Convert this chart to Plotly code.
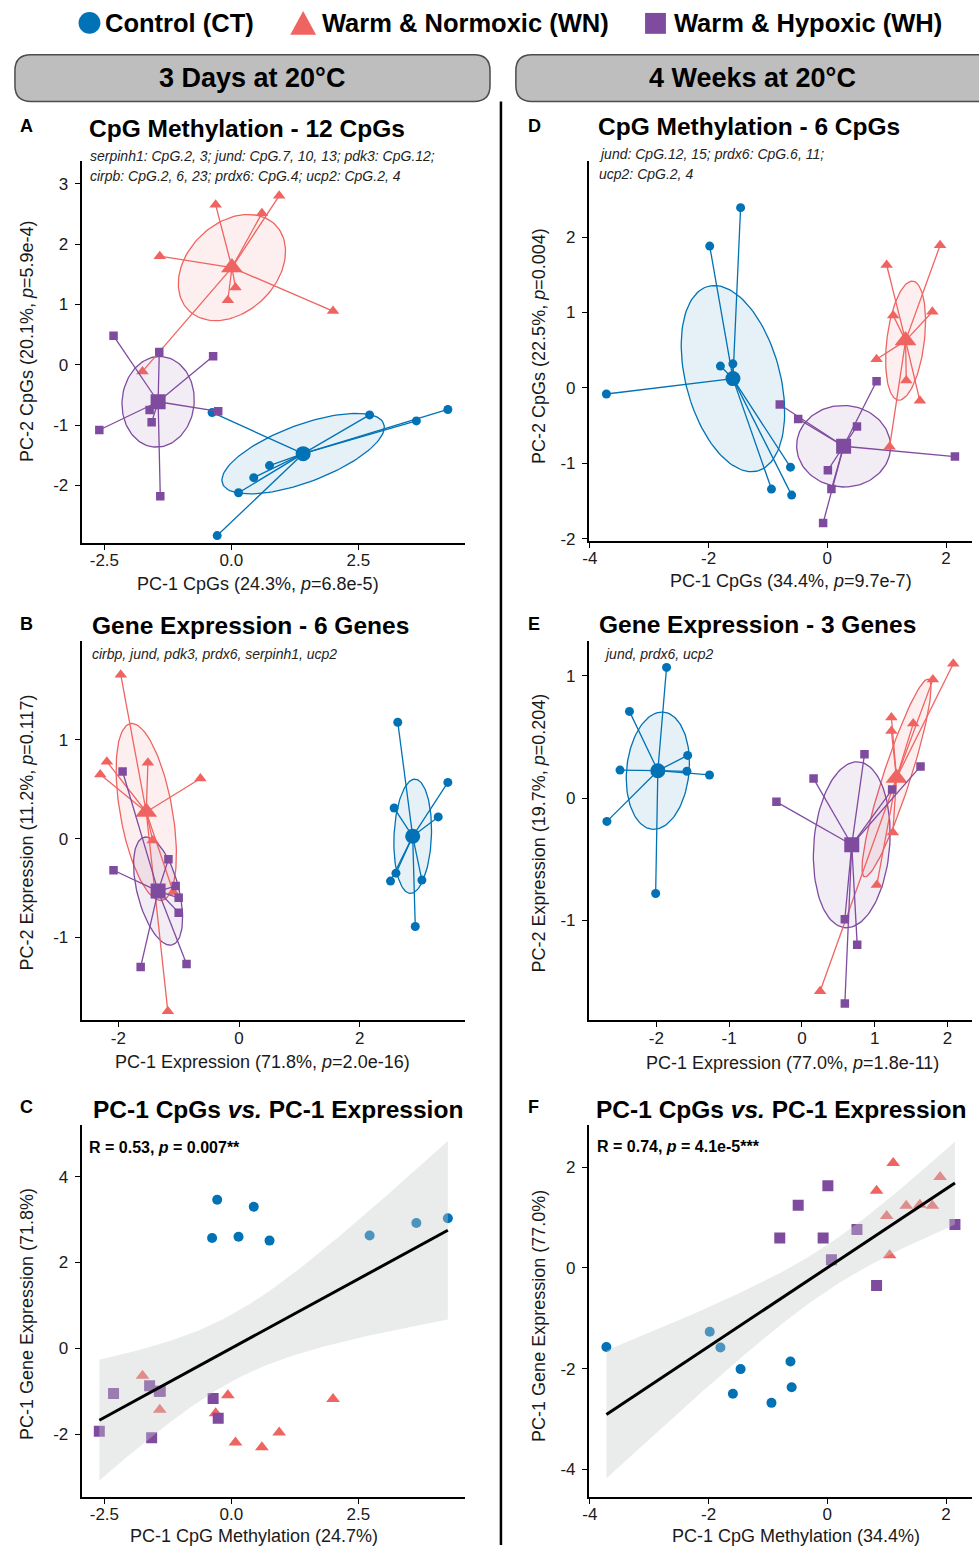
import numpy as np
import plotly.graph_objects as go

W, H = 979, 1553
SANS = "Liberation Sans, Arial, Helvetica, sans-serif"
NARROW = SANS

# ---------------- groups ----------------
group_names = ["Control (CT)", "Warm & Normoxic (WN)", "Warm & Hypoxic (WH)"]
group_colors = ["#0072B5", "#EF6461", "#7F4B9F"]
group_fills = ["rgba(0,114,181,0.10)", "rgba(239,100,97,0.10)", "rgba(127,75,159,0.10)"]
group_symbols = ["circle", "triangle-up", "square"]

# ---------------- 3 days at 20°C (per sample) ----------------
d3_ct_cpg_pc1 = [-0.38, -0.28, 0.14, 0.44, 0.75, 2.72, 3.64, 4.26]
d3_ct_cpg_pc2 = [-0.79, -2.83, -2.12, -1.87, -1.67, -0.83, -0.93, -0.74]
d3_ct_exp_pc1 = [2.57, 3.46, 2.60, 3.30, 2.51, 2.63, 2.92, 3.03]
d3_ct_exp_pc2 = [0.31, 0.57, -0.35, 0.22, -0.43, 1.18, -0.89, -0.42]

d3_wn_cpg_pc1 = [-1.75, -1.41, -0.07, -0.31, 0.08, 0.60, 0.94, 2.00]
d3_wn_cpg_pc2 = [-0.11, 1.80, 1.07, 2.65, 1.28, 2.51, 2.80, 0.89]
d3_wn_exp_pc1 = [-0.64, -1.43, -1.09, -1.51, -2.19, -2.30, -1.96, -1.18]
d3_wn_exp_pc2 = [0.61, -0.02, -0.54, 0.77, 0.78, 0.65, 1.66, -1.75]

d3_wh_cpg_pc1 = [-2.32, -2.60, -1.61, -1.40, -1.57, -0.36, -0.26, -1.42]
d3_wh_cpg_pc2 = [0.48, -1.08, -0.75, -2.18, -0.95, 0.14, -0.77, 0.21]
d3_wh_exp_pc1 = [-1.05, -1.93, -0.87, -1.00, -2.08, -1.17, -1.63, -1.00]
d3_wh_exp_pc2 = [-0.48, 0.68, -1.27, -0.60, -0.32, -0.21, -1.30, -0.75]

# ---------------- 4 weeks at 20°C (per sample) ----------------
w4_ct_cpg_pc1 = [-3.72, -1.98, -1.80, -1.46, -1.59, -0.94, -0.62, -0.60]
w4_ct_cpg_pc2 = [-0.08, 1.88, 0.29, 2.39, 0.32, -1.34, -1.05, -1.42]
w4_ct_exp_pc1 = [-1.57, -1.27, -1.58, -2.01, -2.50, -2.68, -1.86, -2.37]
w4_ct_exp_pc2 = [0.35, 0.19, 0.22, -0.78, 0.23, -0.19, 1.07, 0.71]

w4_wn_cpg_pc1 = [1.11, 0.83, 1.90, 1.33, 1.56, 1.77, 1.00, 1.05]
w4_wn_cpg_pc2 = [0.96, 0.38, 1.89, 0.10, -0.17, 1.01, 1.63, -0.78]
w4_wn_exp_pc1 = [2.08, 1.53, 1.80, 1.23, 1.25, 1.23, 1.03, 0.25]
w4_wn_exp_pc2 = [1.10, 0.61, 0.97, 0.66, -0.28, 0.55, -0.71, -1.58]

w4_wh_cpg_pc1 = [-0.80, -0.49, 0.01, -0.07, 0.50, 0.07, 0.83, 2.15]
w4_wh_cpg_pc2 = [-0.22, -0.41, -1.09, -1.79, -0.51, -1.34, 0.09, -0.91]
w4_wh_exp_pc1 = [0.59, 1.24, 1.63, 0.59, 0.76, 0.16, -0.35, 0.86]
w4_wh_exp_pc2 = [-0.99, 0.07, 0.26, -1.68, -1.20, 0.16, -0.03, 0.36]

# ---------------- tick labels ----------------
A_xticks = [-2.5, 0.0, 2.5]; A_xtext = ["-2.5", "0.0", "2.5"]
A_yticks = [-2, -1, 0, 1, 2, 3]; A_ytext = ["-2", "-1", "0", "1", "2", "3"]
B_xticks = [-2, 0, 2]; B_xtext = ["-2", "0", "2"]
B_yticks = [-1, 0, 1]; B_ytext = ["-1", "0", "1"]
C_xticks = [-2.5, 0.0, 2.5]; C_xtext = ["-2.5", "0.0", "2.5"]
C_yticks = [-2, 0, 2, 4]; C_ytext = ["-2", "0", "2", "4"]
D_xticks = [-4, -2, 0, 2]; D_xtext = ["-4", "-2", "0", "2"]
D_yticks = [-2, -1, 0, 1, 2]; D_ytext = ["-2", "-1", "0", "1", "2"]
E_xticks = [-2, -1, 0, 1, 2]; E_xtext = ["-2", "-1", "0", "1", "2"]
E_yticks = [-1, 0, 1]; E_ytext = ["-1", "0", "1"]
F_xticks = [-4, -2, 0, 2]; F_xtext = ["-4", "-2", "0", "2"]
F_yticks = [-4, -2, 0, 2]; F_ytext = ["-4", "-2", "0", "2"]

CHI2_95_2DF = 5.991   # ellipse level (95% confidence of the group mean)
T_975_DF22 = 2.0739   # 95% CI of the lm fit, n = 24


def fx(px):
    return px / W


def fy(py):
    return 1 - py / H


def conf_ellipse(x, y, npts=120):
    x = np.asarray(x, float); y = np.asarray(y, float)
    n = len(x)
    S = np.cov(np.vstack([x, y]))
    vals, vecs = np.linalg.eigh(S)
    c2 = CHI2_95_2DF / n
    t = np.linspace(0, 2 * np.pi, npts)
    circ = np.vstack([np.cos(t), np.sin(t)])
    pts = vecs @ np.diag(np.sqrt(np.maximum(vals, 0) * c2)) @ circ
    return x.mean() + pts[0], y.mean() + pts[1]


fig = go.Figure()


def pca_panel(xs_list, ys_list, ax):
    xa, ya = "x" + ax, "y" + ax
    for g in range(3):
        ex, ey = conf_ellipse(xs_list[g], ys_list[g])
        fig.add_trace(go.Scatter(x=ex, y=ey, mode="lines", fill="toself",
                                 fillcolor=group_fills[g],
                                 line=dict(color=group_colors[g], width=1.3),
                                 xaxis=xa, yaxis=ya, showlegend=False, hoverinfo="skip"))
    for g in range(3):
        x = np.asarray(xs_list[g], float); y = np.asarray(ys_list[g], float)
        cx, cy = x.mean(), y.mean()
        sx, sy = [], []
        for xi, yi in zip(x, y):
            sx += [cx, xi, None]; sy += [cy, yi, None]
        fig.add_trace(go.Scatter(x=sx, y=sy, mode="lines",
                                 line=dict(color=group_colors[g], width=1.3),
                                 xaxis=xa, yaxis=ya, showlegend=False, hoverinfo="skip"))
        size = [9, 11, 8.5][g]
        fig.add_trace(go.Scatter(x=x, y=y, mode="markers",
                                 marker=dict(symbol=group_symbols[g], size=size,
                                             color=group_colors[g], line=dict(width=0)),
                                 xaxis=xa, yaxis=ya, showlegend=False, hoverinfo="skip"))
        csize = [15, 19, 15][g]
        fig.add_trace(go.Scatter(x=[cx], y=[cy], mode="markers",
                                 marker=dict(symbol=group_symbols[g], size=csize,
                                             color=group_colors[g], line=dict(width=0)),
                                 xaxis=xa, yaxis=ya, showlegend=False, hoverinfo="skip"))


def corr_panel(xs_list, ys_list, ax):
    xa, ya = "x" + ax, "y" + ax
    for g in range(3):
        size = [10, 12, 11][g]
        fig.add_trace(go.Scatter(x=xs_list[g], y=ys_list[g], mode="markers",
                                 marker=dict(symbol=group_symbols[g], size=size,
                                             color=group_colors[g], line=dict(width=0)),
                                 xaxis=xa, yaxis=ya, showlegend=False, hoverinfo="skip"))
    x = np.concatenate([np.asarray(v, float) for v in xs_list])
    y = np.concatenate([np.asarray(v, float) for v in ys_list])
    n = len(x)
    b1, b0 = np.polyfit(x, y, 1)
    resid = y - (b0 + b1 * x)
    s = np.sqrt(np.sum(resid ** 2) / (n - 2))
    sxx = np.sum((x - x.mean()) ** 2)
    xx = np.linspace(x.min(), x.max(), 100)
    yy = b0 + b1 * xx
    se = s * np.sqrt(1 / n + (xx - x.mean()) ** 2 / sxx)
    up = yy + T_975_DF22 * se
    lo = yy - T_975_DF22 * se
    fig.add_trace(go.Scatter(x=np.concatenate([xx, xx[::-1]]), y=np.concatenate([up, lo[::-1]]),
                             mode="lines", fill="toself", fillcolor="rgba(200,205,205,0.38)",
                             line=dict(width=0), xaxis=xa, yaxis=ya, showlegend=False,
                             hoverinfo="skip"))
    fig.add_trace(go.Scatter(x=xx, y=yy, mode="lines", line=dict(color="black", width=3),
                             xaxis=xa, yaxis=ya, showlegend=False, hoverinfo="skip"))


d3_cpg1 = [d3_ct_cpg_pc1, d3_wn_cpg_pc1, d3_wh_cpg_pc1]
d3_cpg2 = [d3_ct_cpg_pc2, d3_wn_cpg_pc2, d3_wh_cpg_pc2]
d3_exp1 = [d3_ct_exp_pc1, d3_wn_exp_pc1, d3_wh_exp_pc1]
d3_exp2 = [d3_ct_exp_pc2, d3_wn_exp_pc2, d3_wh_exp_pc2]
w4_cpg1 = [w4_ct_cpg_pc1, w4_wn_cpg_pc1, w4_wh_cpg_pc1]
w4_cpg2 = [w4_ct_cpg_pc2, w4_wn_cpg_pc2, w4_wh_cpg_pc2]
w4_exp1 = [w4_ct_exp_pc1, w4_wn_exp_pc1, w4_wh_exp_pc1]
w4_exp2 = [w4_ct_exp_pc2, w4_wn_exp_pc2, w4_wh_exp_pc2]

pca_panel(d3_cpg1, d3_cpg2, "")      # A
pca_panel(d3_exp1, d3_exp2, "2")     # B
corr_panel(d3_cpg1, d3_exp1, "3")    # C
pca_panel(w4_cpg1, w4_cpg2, "4")     # D
pca_panel(w4_exp1, w4_exp2, "5")     # E
corr_panel(w4_cpg1, w4_exp1, "6")    # F


def axis_cfg(pxr, rng, tv, tt, anchor, horizontal):
    if horizontal:
        dom = [fx(pxr[0]), fx(pxr[1])]
    else:
        dom = [fy(pxr[1]), fy(pxr[0])]
    return dict(domain=dom, range=list(rng), tickmode="array", tickvals=tv, ticktext=tt,
                showline=True, linecolor="black", linewidth=1.6, ticks="outside",
                ticklen=5, tickwidth=1.4, tickcolor="black", showgrid=False,
                zeroline=False, anchor=anchor, fixedrange=True,
                ticklabelstandoff=-4 if horizontal else 3,
                tickfont=dict(family=SANS, size=17, color="#1a1a1a"))


layout_axes = {
    "xaxis": axis_cfg((76, 461.7), (-2.950, 4.595), A_xticks, A_xtext, "y", True),
    "yaxis": axis_cfg((161.7, 545.7), (-2.951, 3.379), A_yticks, A_ytext, "x", False),
    "xaxis2": axis_cfg((76, 461.7), (-2.610, 3.742), B_xticks, B_xtext, "y2", True),
    "yaxis2": axis_cfg((644.3, 1025.7), (-1.842, 2.003), B_yticks, B_ytext, "x2", False),
    "xaxis3": axis_cfg((76, 461.7), (-2.950, 4.595), C_xticks, C_xtext, "y3", True),
    "yaxis3": axis_cfg((1130.7, 1505), (-3.467, 5.205), C_yticks, C_ytext, "x3", False),
    "xaxis4": axis_cfg((586.3, 971.7), (-4.018, 2.433), D_xticks, D_xtext, "y4", True),
    "yaxis4": axis_cfg((162.3, 544), (-2.031, 3.002), D_yticks, D_ytext, "x4", False),
    "xaxis5": axis_cfg((586.3, 971.7), (-2.930, 2.334), E_xticks, E_xtext, "y5", True),
    "yaxis5": axis_cfg((644.3, 1025.7), (-1.818, 1.286), E_yticks, E_ytext, "x5", False),
    "xaxis6": axis_cfg((586.3, 971.7), (-4.018, 2.433), F_xticks, F_xtext, "y6", True),
    "yaxis6": axis_cfg((1130.7, 1505), (-4.553, 2.836), F_yticks, F_ytext, "x6", False),
}

ann = []


def text(px, py, s, size, family=SANS, xanchor="left", angle=0, color="black"):
    ann.append(dict(x=fx(px), y=fy(py), xref="paper", yref="paper", text=s, showarrow=False,
                    xanchor=xanchor, yanchor="middle", textangle=angle,
                    font=dict(family=family, size=size, color=color)))


# legend text
text(98, 23, "<b>" + group_names[0] + "</b>", 25.5, NARROW)
text(316, 23, "<b>" + group_names[1] + "</b>", 25.5, NARROW)
text(670, 23, "<b>" + group_names[2] + "</b>", 25.5, NARROW)
# headers
text(248, 78, "<b>3 Days at 20°C</b>", 27, NARROW, "center")
text(751, 78, "<b>4 Weeks at 20°C</b>", 27, NARROW, "center")
# panel letters
for lab, px, py in [("A", 12, 127), ("B", 12, 627), ("C", 12, 1113),
                    ("D", 523, 127), ("E", 523, 627), ("F", 523, 1113)]:
    text(px, py, "<b>" + lab + "</b>", 18, SANS)
# titles
text(82, 129, "<b>CpG Methylation - 12 CpGs</b>", 24.5, NARROW)
text(85, 629, "<b>Gene Expression - 6 Genes</b>", 24.5, NARROW)
text(86, 1115, "<b>PC-1 CpGs <i>vs.</i> PC-1 Expression</b>", 24.5, NARROW)
text(594, 127, "<b>CpG Methylation - 6 CpGs</b>", 24.5, NARROW)
text(595, 628, "<b>Gene Expression - 3 Genes</b>", 24.5, NARROW)
text(592, 1115, "<b>PC-1 CpGs <i>vs.</i> PC-1 Expression</b>", 24.5, NARROW)
# subtitles
text(83, 157, "<i>serpinh1: CpG.2, 3; jund: CpG.7, 10, 13; pdk3: CpG.12;</i>", 14, NARROW, color="#222")
text(83, 177, "<i>cirpb: CpG.2, 6, 23; prdx6: CpG.4; ucp2: CpG.2, 4</i>", 14, NARROW, color="#222")
text(85, 657, "<i>cirbp, jund, pdk3, prdx6, serpinh1, ucp2</i>", 14, NARROW, color="#222")
text(595, 155, "<i>jund: CpG.12, 15; prdx6: CpG.6, 11;</i>", 14, NARROW, color="#222")
text(595, 175, "<i>ucp2: CpG.2, 4</i>", 14, NARROW, color="#222")
text(600, 657, "<i>jund, prdx6, ucp2</i>", 14, NARROW, color="#222")
# correlation stats
text(82, 1153, "<b>R = 0.53, <i>p</i> = 0.007**</b>", 16, NARROW)
text(593, 1152, "<b>R = 0.74, <i>p</i> = 4.1e-5***</b>", 16, NARROW)
# axis titles
text(254, 587, "PC-1 CpGs (24.3%, <i>p</i>=6.8e-5)", 18, SANS, "center", color="#1a1a1a")
text(258, 1067, "PC-1 Expression (71.8%, <i>p</i>=2.0e-16)", 18, SANS, "center", color="#1a1a1a")
text(250, 1544, "PC-1 CpG Methylation (24.7%)", 18, SANS, "center", color="#1a1a1a")
text(790, 584, "PC-1 CpGs (34.4%, <i>p</i>=9.7e-7)", 18, SANS, "center", color="#1a1a1a")
text(791, 1069, "PC-1 Expression (77.0%, <i>p</i>=1.8e-11)", 18, SANS, "center", color="#1a1a1a")
text(795, 1544, "PC-1 CpG Methylation (34.4%)", 18, SANS, "center", color="#1a1a1a")
text(21, 343, "PC-2 CpGs (20.1%, <i>p</i>=5.9e-4)", 18, SANS, "center", -90, "#1a1a1a")
text(21, 837, "PC-2 Expression (11.2%, <i>p</i>=0.117)", 18, SANS, "center", -90, "#1a1a1a")
text(21, 1321, "PC-1 Gene Expression (71.8%)", 18, SANS, "center", -90, "#1a1a1a")
text(536, 348, "PC-2 CpGs (22.5%, <i>p</i>=0.004)", 18, SANS, "center", -90, "#1a1a1a")
text(536, 837, "PC-2 Expression (19.7%, <i>p</i>=0.204)", 18, SANS, "center", -90, "#1a1a1a")
text(536, 1323, "PC-1 Gene Expression (77.0%)", 18, SANS, "center", -90, "#1a1a1a")


def rounded_rect(x0, y0, x1, y1, r):
    P = lambda a, b: f"{fx(a):.5f},{fy(b):.5f}"
    return (f"M {P(x0 + r, y0)} L {P(x1 - r, y0)} Q {P(x1, y0)} {P(x1, y0 + r)} "
            f"L {P(x1, y1 - r)} Q {P(x1, y1)} {P(x1 - r, y1)} L {P(x0 + r, y1)} "
            f"Q {P(x0, y1)} {P(x0, y1 - r)} L {P(x0, y0 + r)} Q {P(x0, y0)} {P(x0 + r, y0)} Z")


shapes = [
    dict(type="path", xref="paper", yref="paper", path=rounded_rect(9, 55, 487, 102, 16),
         fillcolor="#BEBEBE", line=dict(color="#4d4d4d", width=1.5), layer="below"),
    dict(type="path", xref="paper", yref="paper", path=rounded_rect(513, 55, 995, 102, 16),
         fillcolor="#BEBEBE", line=dict(color="#4d4d4d", width=1.5), layer="below"),
    dict(type="line", xref="paper", yref="paper", x0=fx(498), x1=fx(498), y0=fy(102), y1=fy(1553),
         line=dict(color="black", width=2.5)),
    # legend keys
    dict(type="circle", xref="paper", yref="paper", x0=fx(73), x1=fx(95), y0=fy(34), y1=fy(12),
         fillcolor=group_colors[0], line=dict(width=0)),
    dict(type="path", xref="paper", yref="paper",
         path=f"M {fx(286):.5f},{fy(35):.5f} L {fx(312):.5f},{fy(35):.5f} L {fx(299):.5f},{fy(11):.5f} Z",
         fillcolor=group_colors[1], line=dict(width=0)),
    dict(type="rect", xref="paper", yref="paper", x0=fx(643), x1=fx(664), y0=fy(34), y1=fy(13),
         fillcolor=group_colors[2], line=dict(width=0)),
]

fig.update_layout(width=W, height=H, margin=dict(l=0, r=0, t=0, b=0),
                  paper_bgcolor="white", plot_bgcolor="rgba(0,0,0,0)",
                  showlegend=False, annotations=ann, shapes=shapes, **layout_axes)

fig.write_html("out.html")
